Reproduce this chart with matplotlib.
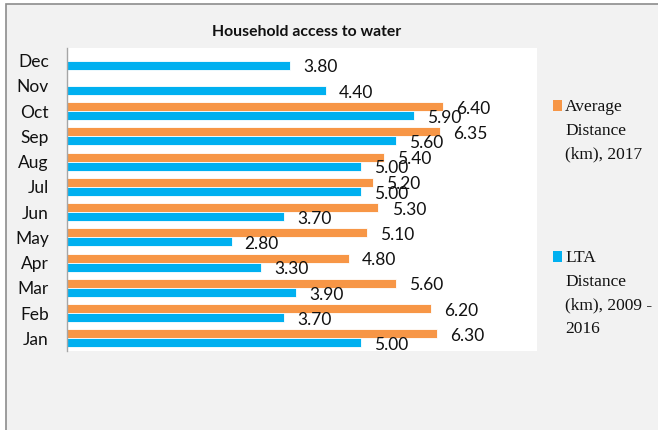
"""Household access to water: average vs long-term distance by month."""

import matplotlib.pyplot as plt
import numpy as np
from matplotlib.patches import Rectangle

months = ["Jan", "Feb", "Mar", "Apr", "May", "Jun", "Jul", "Aug", "Sep", "Oct", "Nov", "Dec"]
avg_2017 = [6.30, 6.20, 5.60, 4.80, 5.10, 5.30, 5.20, 5.40, 6.35, 6.40, np.nan, np.nan]
lta_2009_2016 = [5.00, 3.70, 3.90, 3.30, 2.80, 3.70, 5.00, 5.00, 5.60, 5.90, 4.40, 3.80]
series_names = ["Average\nDistance\n(km), 2017", "LTA\nDistance\n(km), 2009 -\n2016"]
title = "Household access to water"

ORANGE = "#f79646"
BLUE = "#00b0f0"
LABEL_FONT = ["Lato", "DejaVu Sans"]

fig = plt.figure(figsize=(6.58, 4.30), dpi=100)
fig.patch.set_facecolor("white")
# chart-area frame, kept behind the axes
fig.patches.append(Rectangle((6 / 658, -0.05), 1.0, 1.05 - 4 / 430, transform=fig.transFigure,
                             facecolor="#f2f2f2", edgecolor="#8c8c8c", linewidth=1.2, zorder=-10))

ax = fig.add_axes([67 / 658, (430 - 351) / 430, 470 / 658, 303 / 430])
ax.set_zorder(1)
ax.set_facecolor("white")

y = np.arange(len(months))
h = 0.36
ax.barh(y + h / 2, avg_2017, height=h, color=ORANGE, edgecolor="white", linewidth=0.6)
ax.barh(y - h / 2, lta_2009_2016, height=h, color=BLUE, edgecolor="white", linewidth=0.6)

for yy, v in zip(y, avg_2017):
    if np.isnan(v):
        continue
    ax.annotate(f"{v:.2f}", (v, yy + h / 2), xytext=(9.5, -1.5), textcoords="offset points",
                ha="left", va="center", fontsize=12.5, family=LABEL_FONT, color="#111111")
for yy, v in zip(y, lta_2009_2016):
    ax.annotate(f"{v:.2f}", (v, yy - h / 2), xytext=(9.5, -1.5), textcoords="offset points",
                ha="left", va="center", fontsize=12.5, family=LABEL_FONT, color="#111111")

ax.set_xlim(0, 8)
ax.set_ylim(-0.5, len(months) - 0.5)
ax.set_xticks([])
ax.set_yticks(y)
ax.set_yticklabels(months, fontsize=12.5, family=LABEL_FONT, color="#111111")
ax.tick_params(axis="y", length=0, pad=13)
for side in ("top", "right", "bottom"):
    ax.spines[side].set_visible(False)
ax.spines["left"].set_color("#a6a6a6")
ax.spines["left"].set_linewidth(1.0)

fig.text(307 / 658, 1 - 32 / 430, title, ha="center", va="center", fontsize=11.3,
         fontweight="bold", family=LABEL_FONT, color="#111111")

# legend drawn by hand so the marker sits beside the first line
for name, color, ytop in zip(series_names, [ORANGE, BLUE], [99, 250]):
    fig.patches.append(Rectangle((553 / 658, 1 - (ytop + 12) / 430), 9 / 658, 11 / 430,
                                 transform=fig.transFigure, facecolor=color, edgecolor="none"))
    fig.text(565 / 658, 1 - ytop / 430, name, ha="left", va="top", fontsize=12.5,
             family="Liberation Serif", color="#111111", linespacing=1.65)

fig.savefig("out.png", dpi=100, facecolor="white")
